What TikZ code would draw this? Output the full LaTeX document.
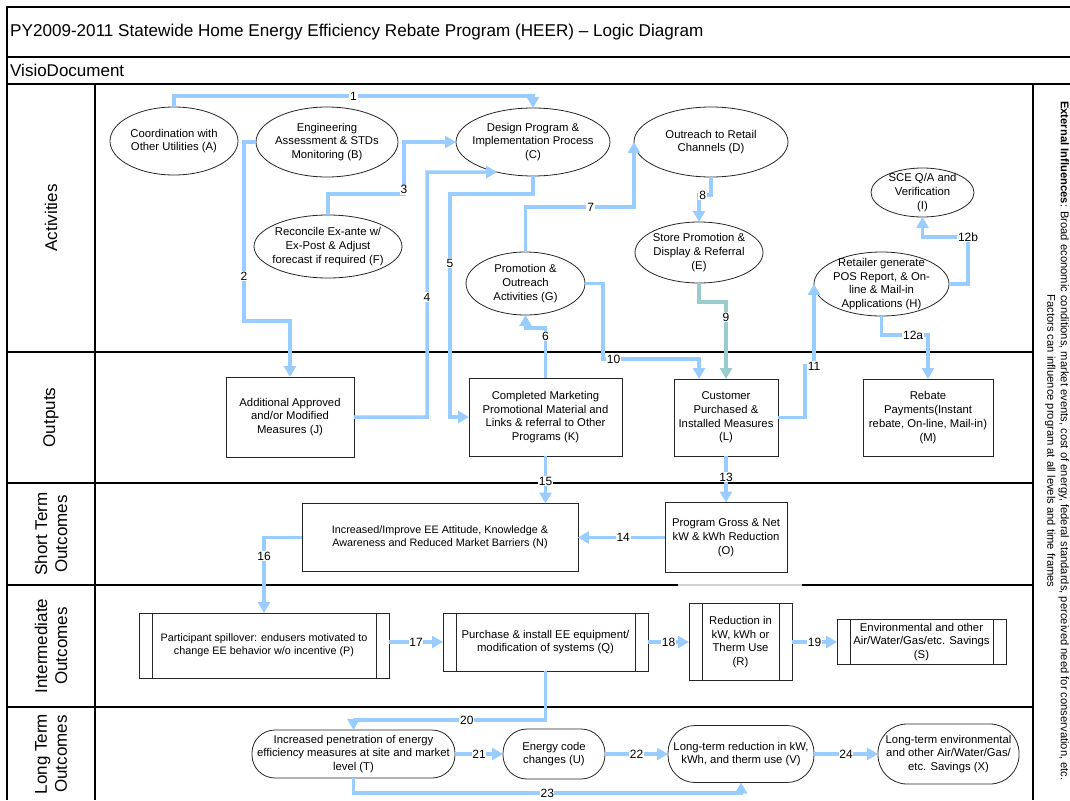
\documentclass[tikz,border=0pt]{standalone}
\usepackage{fontspec}
\setmainfont{Liberation Sans}
\usetikzlibrary{arrows.meta,shapes.geometric}

\definecolor{flow}{RGB}{153,204,255}
\definecolor{flowteal}{RGB}{153,204,204}
\newcommand{\ndfont}{\fontsize{11.3}{13.8}\selectfont}
\newcommand{\smfont}{\fontsize{10.8}{13.2}\selectfont}

\begin{document}
\begin{tikzpicture}[x=1pt,y=-1pt,
  frame/.style={draw=black, line width=1.2pt},
  ell/.style={draw=black!85, line width=0.8pt, ellipse, inner sep=0pt, outer sep=0pt},
  etext/.style={align=center, font=\ndfont, inner sep=0pt},
  box/.style={draw=black!85, line width=0.8pt, rectangle, inner sep=2pt, outer sep=0pt, align=center, font=\ndfont},
  subline/.style={draw=black!85, line width=0.8pt},
  lane/.style={rotate=90, align=center, font=\fontsize{17}{20}\selectfont},
  conn/.style={draw=flow, line width=3.5pt, -{Triangle[length=11pt,width=12pt]}},
  lab/.style={fill=white, inner sep=0.8pt, font=\fontsize{12}{12}\selectfont, text=black}
]
\useasboundingbox (0,0) rectangle (1070,800);

% ---------- frame and swim lanes ----------
\draw[frame] (7,800) -- (7,7) -- (1070,7);
\draw[frame] (7,57) -- (1070,57);
\draw[frame] (7,84) -- (1070,84);
\draw[frame] (95,84) -- (95,800);
\draw[frame] (1033,84) -- (1033,800);
\foreach \yy in {352,483,585,707} \draw[frame] (7,\yy) -- (1033,\yy);
\draw[gray!35, line width=1.2pt] (678,585) -- (802,585);

\node[anchor=west, font=\fontsize{17.1}{20}\selectfont, inner sep=0pt] (title) at (10,32)
  {PY2009-2011 Statewide Home Energy Efficiency Rebate Program (HEER) – Logic Diagram};
\node[anchor=west, font=\fontsize{17}{20}\selectfont, inner sep=0pt] (doc) at (10,70) {VisioDocument};

\node[lane] (lact) at (51,218) {Activities};
\node[lane] (lout) at (51,417.5) {Outputs};
\node[lane] (lst) at (51,534) {Short Term\\Outcomes};
\node[lane] (lint) at (51,646) {Intermediate\\Outcomes};
\node[lane] (llt) at (51,754) {Long Term\\Outcomes};

\node[rotate=-90, align=center, font=\fontsize{11.2}{13.5}\selectfont] (ext) at (1057,441)
  {\textbf{External Influences}: Broad economic conditions, market events, cost of energy, federal standards, perceived need for conservation, etc.\\
   Factors can influence program at all levels and time frames};

% ---------- activities ----------
\node[ell, minimum width=128, minimum height=68, label={[etext]center:Coordination with\\Other Utilities (A)}] (A) at (174,141) {};
\node[ell, minimum width=142, minimum height=70, label={[etext]center:Engineering\\Assessment \& STDs\\Monitoring (B)}] (B) at (327,142) {};
\node[ell, minimum width=148, minimum height=63, label={[etext]center:Reconcile Ex-ante w/\\Ex-Post \& Adjust\\forecast if required (F)}] (F) at (328,246.5) {};
\node[ell, minimum width=154, minimum height=68, label={[etext]center:Design Program \&\\Implementation Process\\(C)}] (C) at (533,142) {};
\node[ell, minimum width=154, minimum height=70, label={[etext]center:Outreach to Retail\\Channels (D)}] (D) at (711,142) {};
\node[ell, minimum width=128, minimum height=61, label={[etext]center:Store Promotion \&\\Display \& Referral\\(E)}] (E) at (699,252.5) {};
\node[ell, minimum width=119, minimum height=63, label={[etext]center:Promotion \&\\Outreach\\Activities (G)}] (G) at (525.5,283.5) {};
\node[ell, minimum width=103, minimum height=49, label={[etext]center:SCE Q/A and\\Verification\\(I)}] (I) at (922.5,192.5) {};
\node[ell, minimum width=135, minimum height=64, label={[etext]center:Retailer generate\\POS Report, \& On-\\line \& Mail-in\\Applications (H)}] (H) at (881.5,284) {};

% ---------- outputs ----------
\node[box, minimum width=128, minimum height=80] (J) at (290,417) {Additional Approved\\and/or Modified\\Measures (J)};
\node[box, minimum width=153, minimum height=78] (K) at (545.5,417) {Completed Marketing\\Promotional Material and\\Links \& referral to Other\\Programs (K)};
\node[box, minimum width=104, minimum height=77] (L) at (726,417.5) {Customer\\Purchased \&\\Installed Measures\\(L)};
\node[box, minimum width=130, minimum height=77] (M) at (928,417.5) {Rebate\\Payments(Instant\\rebate, On-line, Mail-in)\\(M)};

% ---------- short term outcomes ----------
\node[box, font=\smfont, minimum width=276, minimum height=68] (N) at (440,537.5) {Increased/Improve EE Attitude, Knowledge \&\\Awareness and Reduced Market Barriers (N)};
\node[box, minimum width=122, minimum height=70] (O) at (726,537.5) {Program Gross \& Net\\kW \& kWh Reduction\\(O)};

% ---------- intermediate outcomes ----------
\node[box, font=\smfont, minimum width=250, minimum height=65] (P) at (264,645.5) {Participant spillover: endusers motivated to\\change EE behavior w/o incentive (P)};
\node[box, minimum width=205, minimum height=58] (Q) at (545.5,642) {Purchase \& install EE equipment/\\modification of systems (Q)};
\node[box, minimum width=103, minimum height=77] (R) at (740.5,642) {Reduction in\\kW, kWh or\\Therm Use\\(R)};
\node[box, minimum width=169, minimum height=45, inner sep=1pt] (S) at (921.5,642) {Environmental and other\\Air/Water/Gas/etc. Savings\\(S)};
\foreach \n in {P,Q,R,S} {
  \draw[subline] ([xshift=13pt]\n.north west) -- ([xshift=13pt]\n.south west);
  \draw[subline] ([xshift=-13pt]\n.north east) -- ([xshift=-13pt]\n.south east);
}

% ---------- long term outcomes ----------
\node[box, rounded corners=23, minimum width=203, minimum height=48, inner sep=1pt] (T) at (353.5,754) {Increased penetration of energy\\efficiency measures at site and market\\level (T)};
\node[box, rounded corners=24, minimum width=102, minimum height=50] (U) at (554,754) {Energy code\\changes (U)};
\node[box, rounded corners=27, minimum width=146, minimum height=57] (V) at (741,754) {Long-term reduction in kW,\\kWh, and therm use (V)};
\node[box, rounded corners=29, minimum width=141, minimum height=60, inner sep=1pt] (X) at (948.5,754) {Long-term environmental\\and other Air/Water/Gas/\\etc. Savings (X)};

% ---------- numbered flows ----------
\draw[conn] (A.north) -- (174,96) -- node[lab]{1} (533,96) -- (C.north);
\draw[conn] (B.west) -- (244,142) -- node[lab,pos=0.75]{2} (244,321) -- (290,321) -- (J.north);
\draw[conn] (F.north) -- (328,194) -- (404,194) -- node[lab,pos=0.08]{3} (404,142) -- (C.west);
\draw[conn] (J.east) -- (427,417) -- node[lab,pos=0.49]{4} (427,172) -- (C.220);
\draw[conn] (C.south) -- (533,194) -- (450,194) -- node[lab,pos=0.31]{5} (450,417) -- (K.west);
\draw[conn] (K.north) -- node[lab,pos=0.84]{6} (545.5,328) -- (525.5,328) -- (G.south);
\draw[conn] (G.north) -- (525.5,207) -- node[lab,pos=0.6]{7} (634,207) -- (D.west);
\draw[conn] (D.south) -- (711,195) -- node[lab,pos=0.7]{8} (699,195) -- (E.north);
\draw[conn, draw=flowteal] (E.south) -- (699,302) -- (726,302) -- node[lab,pos=0.2]{9} (L.north);
\draw[conn] (G.east) -- (603,283.5) -- (603,359) -- node[lab,pos=0.11]{10} (699,359) -- ([xshift=-27pt]L.north);
\draw[conn] (L.east) -- (805,417.5) -- (805,366) -- node[lab,pos=1]{11} (814,366) -- (H.west);
\draw[conn] (H.south) -- (881.5,335) -- node[lab,pos=0.68]{12a} (928,335) -- (M.north);
\draw[conn] (H.east) -- (968,284) -- node[lab,pos=1]{12b} (968,237) -- (922.5,237) -- (I.south);
\draw[conn] (L.south) -- node[lab,pos=0.46]{13} (O.north);
\draw[conn] (O.west) -- node[lab,pos=0.48]{14} (N.east);
\draw[conn] (K.south) -- node[lab,pos=0.53]{15} (K.south |- N.north);
\draw[conn] (N.west) -- (264,537.5) -- node[lab,pos=0.25]{16} (P.north);
\draw[conn] (P.east |- Q.west) -- node[lab]{17} (Q.west);
\draw[conn] (Q.east) -- node[lab]{18} (R.west);
\draw[conn] (R.east) -- node[lab]{19} (S.west);
\draw[conn] (Q.south) -- (545.5,720) -- node[lab,pos=0.41]{20} (353.5,720) -- (T.north);
\draw[conn] (T.east) -- node[lab]{21} (U.west);
\draw[conn] (U.east) -- node[lab]{22} (V.west);
\draw[conn] (T.south) -- (353.5,793) -- node[lab,inner sep=0.5pt]{23} (741,793) -- (V.south);
\draw[conn] (V.east) -- node[lab]{24} (X.west);
\end{tikzpicture}
\end{document}
